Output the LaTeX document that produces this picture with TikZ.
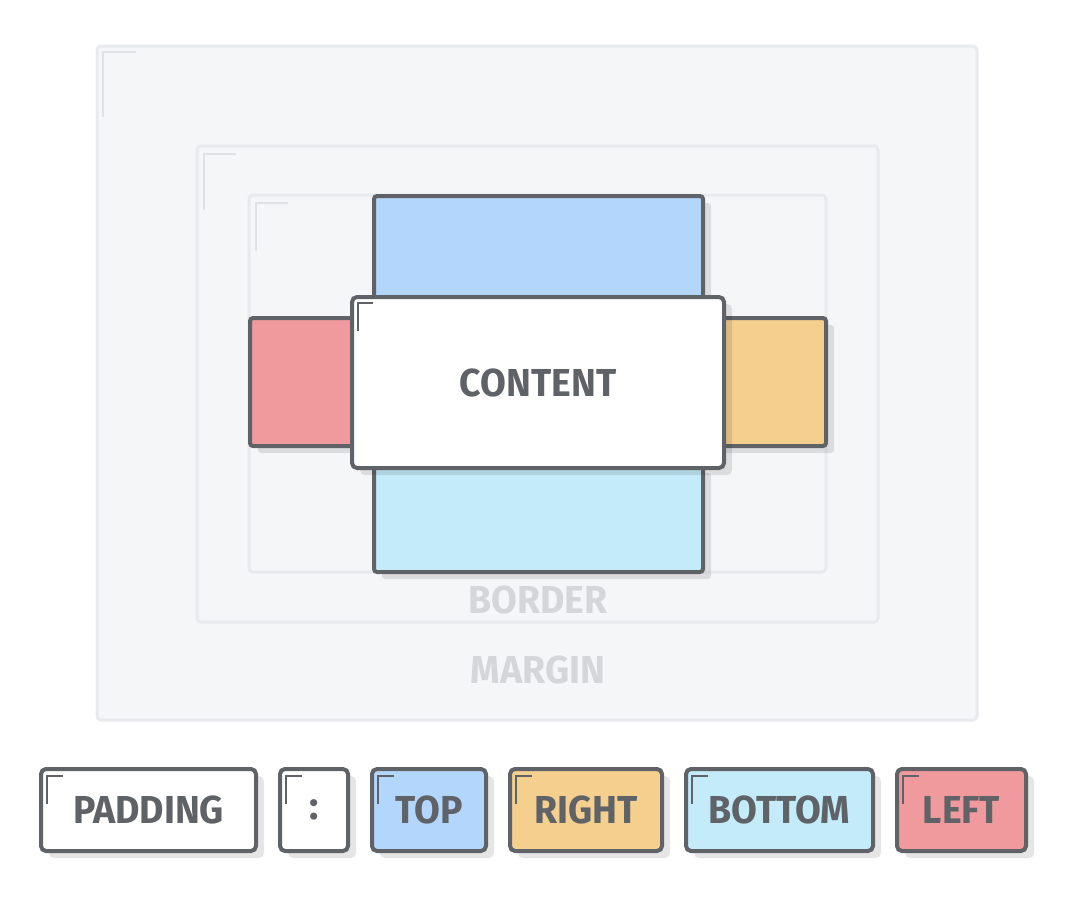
\documentclass[tikz,border=0pt]{standalone}
\usepackage{fontspec}
\setmainfont{Fira Sans}
\usepackage{tikz}
\usetikzlibrary{positioning,shadows,calc}
\definecolor{ink}      {HTML}{5F6368}
\definecolor{paper}    {HTML}{F5F6F8}
\definecolor{rim}      {HTML}{E8EAED}
\definecolor{faint}    {HTML}{DFE1E4}
\definecolor{ghost}    {HTML}{D4D7DA}
\definecolor{topblue}  {HTML}{B3D6FD}
\definecolor{rightorg} {HTML}{F4CF8E}
\definecolor{botblue}  {HTML}{C4EBFA}
\definecolor{leftred}  {HTML}{F09A9D}
\newcommand\capsword[1]{\scalebox{0.96}[1]{#1}}
\tikzset{
  % --- sizes
  box/.style 2 args = {minimum width=#1pt, minimum height=#2pt},
  % --- nodes
  area/.style   = {draw=rim, line width=3pt, fill=paper, rounded corners=4pt,
                   inner sep=0pt, outer sep=0pt},
  shade/.style  = {drop shadow={shadow xshift=8pt, shadow yshift=-7pt,
                   fill=black, opacity=0.1}},
  side/.style   = {draw=ink, line width=4pt, rounded corners=3pt, inner sep=0pt,
                   outer sep=0pt, shade},
  card/.style   = {side, rounded corners=5pt, fill=white, text=ink,
                   font=\bfseries\fontsize{39}{39}\selectfont},
  chip/.style   = {card, minimum height=82pt},
  lbl/.style    = {font=\bfseries\fontsize{39}{39}\selectfont, text=ghost, inner sep=0pt},
  % --- corner ticks
  faintmark/.style = {draw=faint, line width=2pt},
  inkmark/.style   = {draw=ink, line width=2pt},
}

\begin{document}
\begin{tikzpicture}[x=1pt,y=-1pt]
  \useasboundingbox (0,0) rectangle (1074,900);
  % box model
  \node[area, box={880}{674}] (margin) at (537,383) {};
  \node[area, box={681}{476}] (border) at (537.5,384) {};
  \node[area, box={577}{377}] (pad) at (537.5,383.5) {};
  \draw[faintmark] ([shift={(6,71)}]margin.north west) |- ++(33,-65);
  \draw[faintmark] ([shift={(7,64)}]border.north west) |- ++(32,-56);
  \draw[faintmark] ([shift={(7,56)}]pad.north west) |- ++(32,-48);
  \node[lbl] (marginlbl) at (538,670) {\capsword{MARGIN}};
  \node[lbl] (borderlbl) at (538,600) {\capsword{BORDER}};
  % padding sides
  \node[side, fill=topblue,  box={329}{106}] (top)   at (538.5,249) {};
  \node[side, fill=botblue,  box={329}{106}] (bot)   at (538.5,519) {};
  \node[side, fill=leftred,  box={110}{128}] (left)  at (305,382) {};
  \node[side, fill=rightorg, box={110}{128}] (right) at (771,382) {};
  % content
  \node[card, box={372}{171}] (content) at (538,382.5) {\capsword{CONTENT}};
  \draw[inkmark] ([shift={(6,34)}]content.north west) |- ++(15,-28);
  % legend
  \node[chip, minimum width=215pt] (kpad) at (148.5,810) {\capsword{PADDING}};
  \node[chip, minimum width=68pt, right=24pt of kpad] (kcolon) {:};
  \node[chip, minimum width=114pt, fill=topblue, right=24pt of kcolon] (ktop) {\capsword{TOP}};
  \node[chip, minimum width=152pt, fill=rightorg, right=24pt of ktop] (kright) {\capsword{RIGHT}};
  \node[chip, minimum width=187pt, fill=botblue, right=24pt of kright] (kbot) {\capsword{BOTTOM}};
  \node[chip, minimum width=129pt, fill=leftred, right=24pt of kbot] (kleft) {\capsword{LEFT}};
  \foreach \k in {kpad,kcolon,ktop,kright,kbot,kleft}
    \draw[inkmark] ([shift={(6,35)}]\k.north west) |- ++(16,-28);
\end{tikzpicture}
\end{document}
